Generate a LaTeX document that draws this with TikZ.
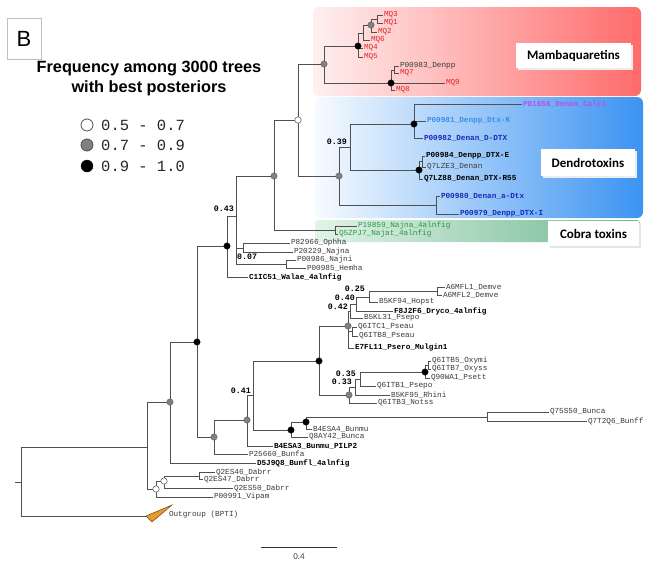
\documentclass[tikz,border=0pt]{standalone}
\usepackage{fontspec}
\setmainfont{Liberation Sans}
\newfontfamily\lmono{Liberation Mono}
\newfontfamily\carl{Carlito}
\usetikzlibrary{calc}
\definecolor{linec}{HTML}{505050}
\definecolor{labc}{HTML}{3A3A3A}
\definecolor{mqred}{HTML}{E3242B}
\definecolor{dtxd}{HTML}{1A28B8}
\definecolor{dtxl}{HTML}{3C8EE8}
\definecolor{calci}{HTML}{B84FE8}
\definecolor{cobg}{HTML}{2A9A3A}
\definecolor{mqL}{HTML}{FFF0F0}
\definecolor{mqR}{HTML}{FF6B6B}
\definecolor{dtL}{HTML}{F7FBFF}
\definecolor{dtR}{HTML}{3B93F2}
\definecolor{cbL}{HTML}{E2F3E8}
\definecolor{cbR}{HTML}{6DB88F}
\definecolor{ogc}{HTML}{E89A2C}
\definecolor{ogd}{HTML}{6B4A1A}
\tikzset{
  br/.style={draw=linec, line width=0.85pt},
  lb/.style={anchor=west, inner sep=0.8pt, font=\lmono\fontsize{7.7}{8}\selectfont, text=labc},
  lbb/.style={lb, font=\lmono\bfseries\fontsize{7.7}{8}\selectfont, text=black},
  lbr/.style={lb, text=mqred},
  lbg/.style={lb, text=cobg},
  lbc/.style={lbb, text=calci},
  lbl/.style={lbb, text=dtxl},
  lbd/.style={lbb, text=dtxd},
  sup/.style={anchor=east, inner sep=0, font=\lmono\bfseries\fontsize{8.3}{9}\selectfont, text=black},
  dB/.style={circle, fill=black, draw=black, line width=0.3pt, minimum size=6.5pt, inner sep=0},
  dG/.style={circle, fill=gray, draw=linec, line width=0.3pt, minimum size=6.5pt, inner sep=0},
  dW/.style={circle, fill=white, draw=linec, line width=0.5pt, minimum size=6.5pt, inner sep=0},
  tagbox/.style={fill=white, inner sep=0, font=\carl\bfseries\fontsize{13}{15}\selectfont},
  lgtext/.style={anchor=west, inner sep=0, font=\lmono\fontsize{15.5}{17}\selectfont, text=black!85}
}
\newcommand\myleaf[5][lb]{\node[#1] (#2) at (#3,#4) {#5};}
\begin{document}
\begin{tikzpicture}[x=1pt,y=-1pt]
\useasboundingbox (0,0) rectangle (649,571);
\fill[white] (0,0) rectangle (649,571);

% coloured clade boxes
\shade[left color=mqL, right color=mqR, rounded corners=6pt] (313,7) rectangle (641,96);
\shade[left color=dtL, right color=dtR, rounded corners=6pt] (315,97) rectangle (643,218);
\shade[left color=cbL, right color=cbR, rounded corners=3pt] (315,220) rectangle (640,242);
\fill[black!7] (518,45) rectangle (633,70);
\node[tagbox, minimum width=115pt, minimum height=25pt] (tagM) at (573.5,55.5) {Mambaquaretins};
\fill[black!7] (543,151) rectangle (637,178);
\node[tagbox, minimum width=94pt, minimum height=27pt] (tagD) at (588,162.5) {Dendrotoxins};
\fill[black!10] (550,223) rectangle (641,248);
\node[tagbox, minimum width=91pt, minimum height=25pt] (tagC) at (593.5,233.5) {Cobra toxins};

% panel letter, title, legend
\node[draw=black!25, line width=0.6pt, minimum width=34pt, minimum height=41pt, inner sep=0, font=\fontsize{22}{24}\selectfont] (Bbox) at (24,38.5) {B};
\node[align=center, inner sep=0, font=\bfseries\fontsize{16.3}{20}\selectfont] (title) at (149,78) {Frequency among 3000 trees\\with best posteriors};
\node[dW, minimum size=12pt, line width=0.8pt] (lgw) at (87,125) {};
\node[dG, minimum size=12pt, line width=0.8pt] (lgg) at (87,145) {};
\node[dB, minimum size=12pt] (lgb) at (87,166) {};
\node[lgtext] (lgwt) at (101,125) {0.5 - 0.7};
\node[lgtext] (lggt) at (101,145) {0.7 - 0.9};
\node[lgtext] (lgbt) at (101,166) {0.9 - 1.0};

% internal nodes
\coordinate (rootstub) at (15,482);
\coordinate (r0) at (21,482);
\coordinate (n147) at (147,447);
\coordinate (og) at (146,516);
\coordinate (g170) at (170,402);
\coordinate (w156) at (156,489);
\coordinate (w164) at (164,481);
\coordinate (n199) at (199,476);
\coordinate (b197) at (197,342);
\coordinate (b227) at (227,246);
\coordinate (g214) at (214,437);
\coordinate (n236) at (236,216);
\coordinate (n243) at (243,248);
\coordinate (n286) at (286,264);
\coordinate (g274) at (274,176);
\coordinate (n335) at (335,230);
\coordinate (w298) at (298,120);
\coordinate (g324) at (324,64);
\coordinate (b358) at (358,46);
\coordinate (n363) at (363,33);
\coordinate (g371) at (371,25);
\coordinate (n377) at (377,19);
\coordinate (b391) at (391,83);
\coordinate (n394) at (394,70);
\coordinate (g339) at (339,176);
\coordinate (n350) at (350,147);
\coordinate (b414) at (414,124);
\coordinate (b420) at (419,170);
\coordinate (n423) at (422,161);
\coordinate (n436) at (436,205);
\coordinate (g247) at (247,420);
\coordinate (n253) at (253,395);
\coordinate (b291) at (291,430);
\coordinate (b306) at (306,422);
\coordinate (n487) at (487,417);
\coordinate (b319) at (319,361);
\coordinate (g348) at (348,326);
\coordinate (n042) at (350,311);
\coordinate (n352) at (352,331);
\coordinate (n040) at (356,304);
\coordinate (n025) at (369,297);
\coordinate (n437) at (437,291);
\coordinate (g349) at (349,395);
\coordinate (n355) at (355,387);
\coordinate (n360) at (360,379);
\coordinate (b425) at (425,372);
\coordinate (n428) at (428,365);

% leaves
\myleaf[lbr]{MQ3}{383}{15}{MQ3}
\myleaf[lbr]{MQ1}{383}{23}{MQ1}
\myleaf[lbr]{MQ2}{377}{32}{MQ2}
\myleaf[lbr]{MQ6}{370}{40}{MQ6}
\myleaf[lbr]{MQ4}{363}{48}{MQ4}
\myleaf[lbr]{MQ5}{363}{57}{MQ5}
\myleaf{P00983}{399}{66}{P00983\_Denpp}
\myleaf[lbr]{MQ7}{399}{73}{MQ7}
\myleaf[lbr]{MQ9}{445}{83}{MQ9}
\myleaf[lbr]{MQ8}{395}{90}{MQ8}
\myleaf[lbc]{P81658}{522}{104}{P81658\_Denan\_Calci}
\myleaf[lbl]{P00981}{426}{121}{P00981\_Denpp\_Dtx-K}
\myleaf[lbd]{P00982}{423}{138}{P00982\_Denan\_D-DTX}
\myleaf[lbb]{P00984}{425}{156}{P00984\_Denpp\_DTX-E}
\myleaf{Q7LZE3}{426}{167}{Q7LZE3\_Denan}
\myleaf[lbb]{Q7LZ88}{423}{179}{Q7LZ88\_Denan\_DTX-R55}
\myleaf[lbd]{P00980}{440}{196}{P00980\_Denan\_a-Dtx}
\myleaf[lbd]{P00979}{459}{214}{P00979\_Denpp\_DTX-I}
\myleaf[lbg]{P19859}{357}{226}{P19859\_Najna\_4alnfig}
\myleaf[lbg]{Q5ZPJ7}{338}{234}{Q5ZPJ7\_Najat\_4alnfig}
\myleaf{P82966}{290}{243}{P82966\_Ophha}
\myleaf{P20229}{293}{252}{P20229\_Najna}
\myleaf{P00986}{296}{260}{P00986\_Najni}
\myleaf{P00985}{306}{268}{P00985\_Hemha}
\myleaf[lbb]{C1IC51}{248}{277}{C1IC51\_Walae\_4alnfig}
\myleaf{A6MFL1}{445}{287}{A6MFL1\_Demve}
\myleaf{A6MFL2}{442}{295}{A6MFL2\_Demve}
\myleaf{B5KF94}{378}{302}{B5KF94\_Hopst}
\myleaf[lbb]{F8J2F6}{393}{311}{F8J2F6\_Dryco\_4alnfig}
\myleaf{B5KL31}{363}{318}{B5KL31\_Psepo}
\myleaf{Q6ITC1}{357}{327}{Q6ITC1\_Pseau}
\myleaf{Q6ITB8}{358}{336}{Q6ITB8\_Pseau}
\myleaf[lbb]{E7FL11}{354}{348}{E7FL11\_Psero\_Mulgin1}
\myleaf{Q6ITB5}{431}{361}{Q6ITB5\_Oxymi}
\myleaf{Q6ITB7}{431}{369}{Q6ITB7\_Oxyss}
\myleaf{Q90WA1}{430}{378}{Q90WA1\_Psett}
\myleaf{Q6ITB1}{376}{386}{Q6ITB1\_Psepo}
\myleaf{B5KF95}{390}{395}{B5KF95\_Rhini}
\myleaf{Q6ITB3}{377}{403}{Q6ITB3\_Notss}
\myleaf{Q75S50}{549}{412}{Q75S50\_Bunca}
\myleaf{Q7T2Q6}{587}{421}{Q7T2Q6\_Bunff}
\myleaf{B4ESA4}{312}{429}{B4ESA4\_Bunmu}
\myleaf{Q8AY42}{308}{437}{Q8AY42\_Bunca}
\myleaf[lbb]{B4ESA3}{273}{446}{B4ESA3\_Bunmu\_PILP2}
\myleaf{P25660}{248}{454}{P25660\_Bunfa}
\myleaf[lbb]{D5J9Q8}{256}{463}{D5J9Q8\_Bunfl\_4alnfig}
\myleaf{Q2ES46}{215}{472}{Q2ES46\_Dabrr}
\myleaf{Q2ES47}{203}{479}{Q2ES47\_Dabrr}
\myleaf{Q2ES50}{233}{488}{Q2ES50\_Dabrr}
\myleaf{P00991}{213}{497}{P00991\_Vipam}
\myleaf{OUTG}{168}{515}{Outgroup (BPTI)}

% branches
\draw[br] (rootstub) -- (r0);
\foreach \p/\c in {r0/n147, r0/og, n147/g170, n147/w156, w156/w164, w156/P00991,
  w164/n199, w164/Q2ES50, n199/Q2ES46, n199/Q2ES47,
  g170/b197, g170/D5J9Q8, b197/b227, b197/g214, b227/n236, b227/C1IC51,
  n236/g274, n236/n243, n236/n286, n243/P82966, n243/P20229, n286/P00986, n286/P00985,
  g274/w298, g274/n335, n335/P19859, n335/Q5ZPJ7,
  w298/g324, w298/g339, g324/b358, g324/b391,
  b358/n363, b358/MQ4, b358/MQ5, n363/g371, n363/MQ6, g371/n377, g371/MQ2, n377/MQ3, n377/MQ1,
  b391/n394, b391/MQ9, b391/MQ8, n394/P00983, n394/MQ7,
  g339/n350, g339/n436, n350/b414, n350/b420, b414/P81658, b414/P00981, b414/P00982,
  b420/n423, b420/Q7LZ88, n423/P00984, n423/Q7LZE3, n436/P00980, n436/P00979,
  g214/g247, g214/P25660, g247/n253, g247/B4ESA3, n253/b319, n253/b291,
  b291/b306, b291/Q8AY42, b306/n487, b306/B4ESA4, n487/Q75S50, n487/Q7T2Q6,
  b319/g348, b319/g349, g348/n042, g348/n352, g348/E7FL11, n352/Q6ITC1, n352/Q6ITB8,
  n042/n040, n042/B5KL31, n040/n025, n040/F8J2F6, n025/n437, n025/B5KF94,
  n437/A6MFL1, n437/A6MFL2,
  g349/n355, g349/Q6ITB3, n355/n360, n355/B5KF95, n360/b425, n360/Q6ITB1,
  b425/n428, b425/Q90WA1, n428/Q6ITB5, n428/Q6ITB7}
  \draw[br] (\p) |- (\c);

% outgroup collapsed clade
\filldraw[fill=ogc, draw=ogd, line width=0.5pt] (og) -- (172,505) -- (152,522) -- cycle;

% support dots
\node[dW] (dw156) at (w156) {};
\node[dW] (dw164) at (w164) {};
\node[dW] (dw298) at (w298) {};
\node[dG] (dg170) at (g170) {};
\node[dG] (dg214) at (g214) {};
\node[dG] (dg247) at (g247) {};
\node[dG] (dg274) at (g274) {};
\node[dG] (dg324) at (g324) {};
\node[dG] (dg371) at (g371) {};
\node[dG] (dg339) at (g339) {};
\node[dG] (dg348) at (g348) {};
\node[dG] (dg349) at (g349) {};
\node[dB] (db197) at (b197) {};
\node[dB] (db227) at (b227) {};
\node[dB] (db358) at (b358) {};
\node[dB] (db391) at (b391) {};
\node[dB] (db414) at (b414) {};
\node[dB] (db420) at (b420) {};
\node[dB] (db291) at (b291) {};
\node[dB] (db306) at (b306) {};
\node[dB] (db319) at (b319) {};
\node[dB] (db425) at (b425) {};

% support values
\node[sup] (s043) at (234,209) {0.43};
\node[sup, anchor=west] (s007) at (237,257) {0.07};
\node[sup] (s039) at (347,142) {0.39};
\node[sup] (s025) at (365,289) {0.25};
\node[sup] (s040) at (355,298) {0.40};
\node[sup] (s042) at (348,307) {0.42};
\node[sup] (s035) at (356,374) {0.35};
\node[sup] (s033) at (352,382) {0.33};
\node[sup] (s041) at (251,391) {0.41};

% scale bar
\coordinate (sb1) at (261,547);
\coordinate (sb2) at (337,547);
\draw[line width=0.9pt, draw=black!80] (sb1) -- (sb2);
\node[inner sep=0, font=\carl\fontsize{9}{10}\selectfont, text=black!75] (sbl) at (299,557) {0.4};
\end{tikzpicture}
\end{document}
